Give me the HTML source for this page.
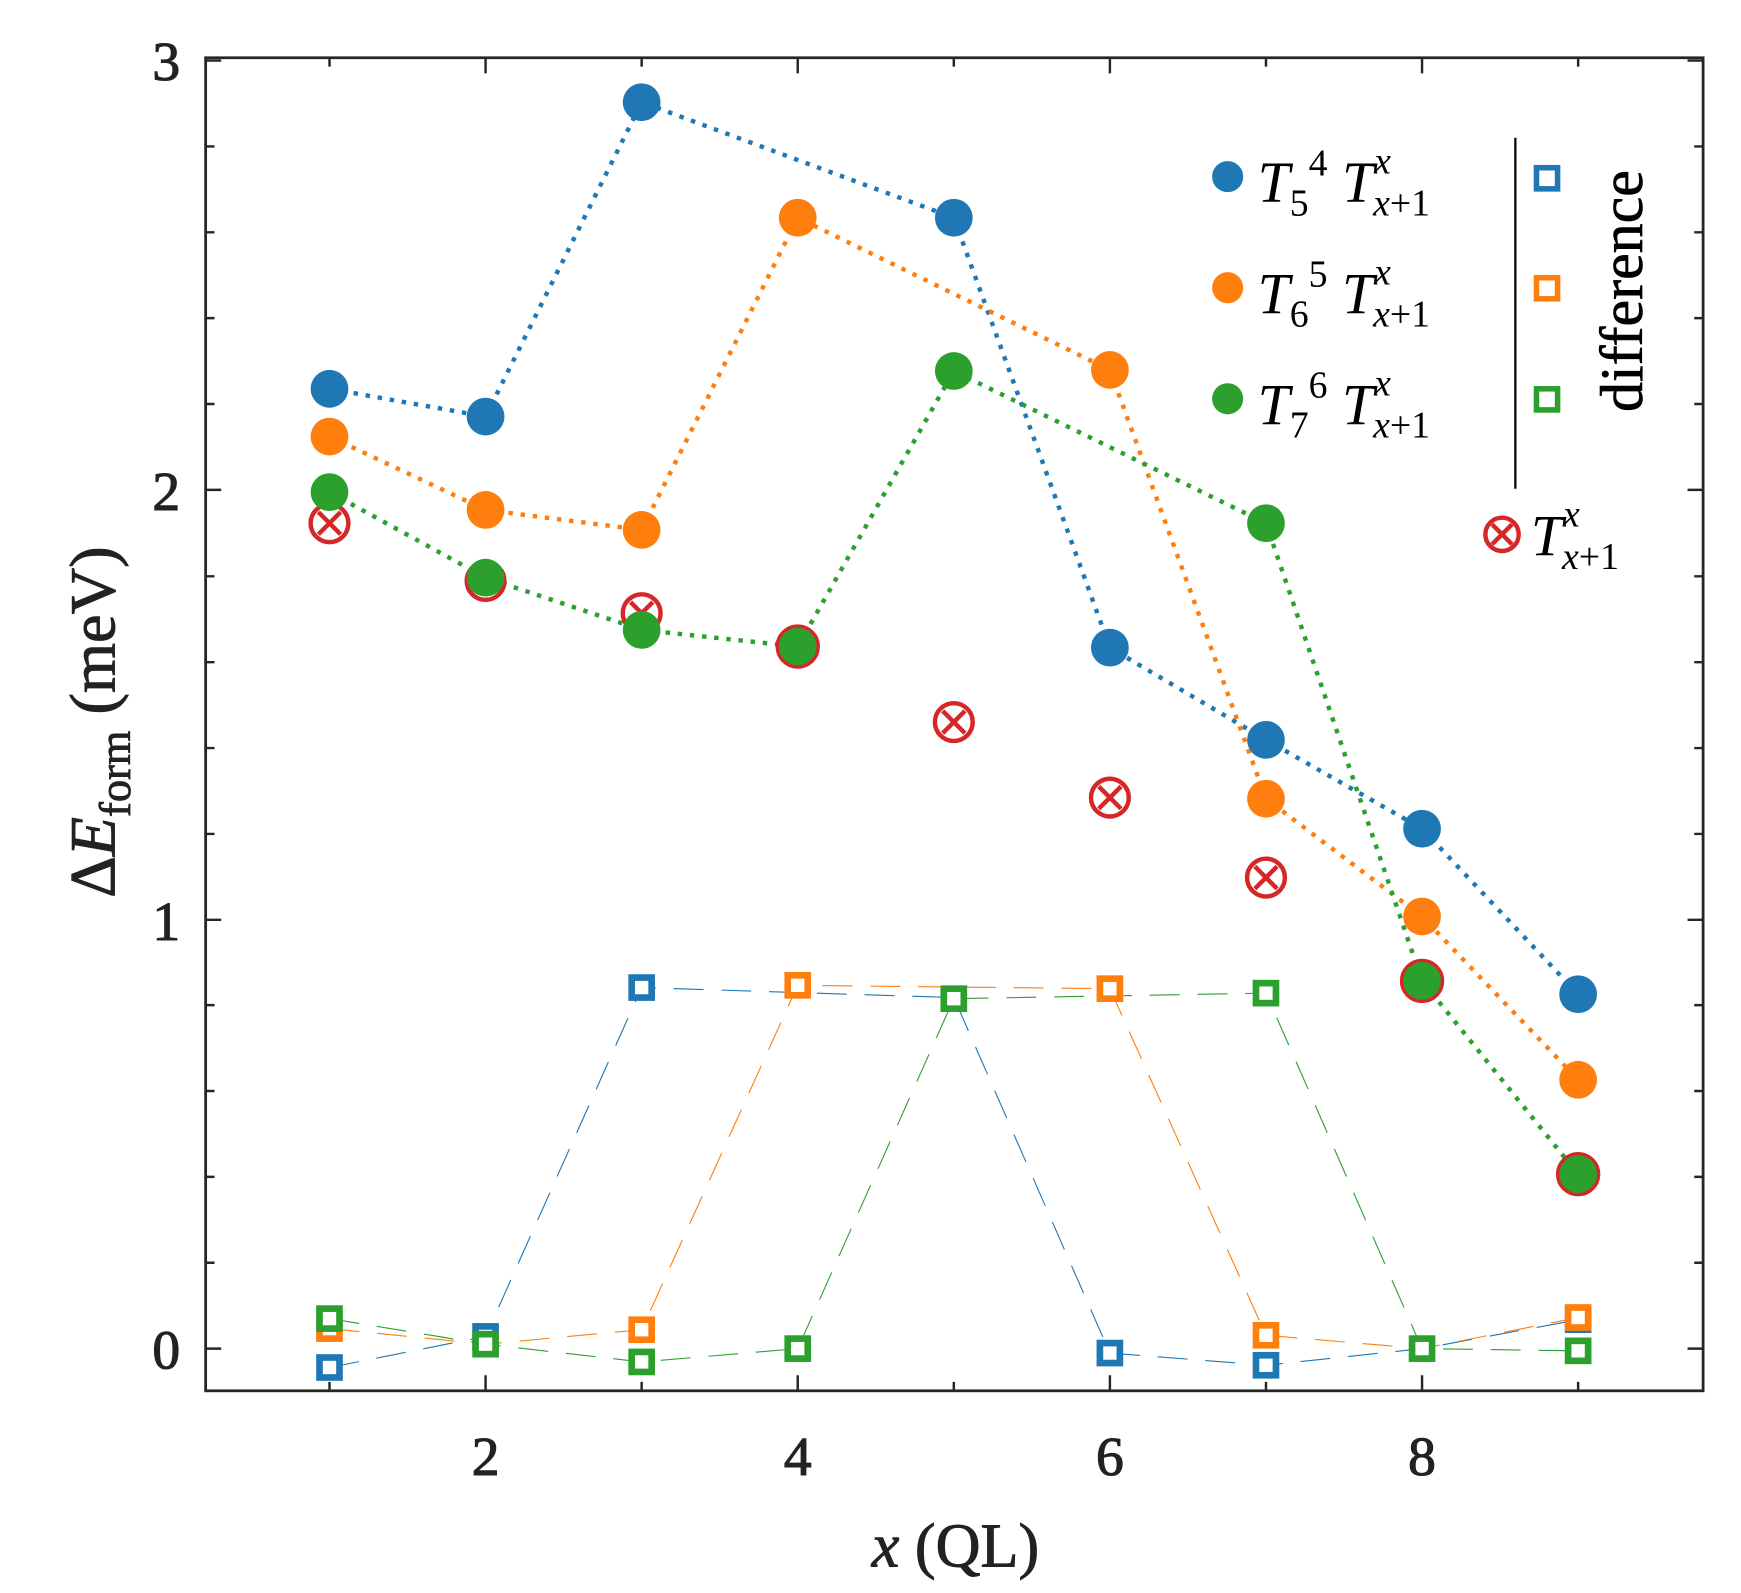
<!DOCTYPE html>
<html><head><meta charset="utf-8"><style>html,body{margin:0;padding:0;background:#fff}svg{display:block}</style></head>
<body>
<svg width="1741" height="1593" viewBox="0 0 1567 1434" xmlns="http://www.w3.org/2000/svg" font-family="'Liberation Serif', serif" fill="#222">
<rect width="1567" height="1434" fill="#fff"/>
<g stroke="#262626" stroke-width="2.2">
<path d="M185,1214h14M185,828h14M185,441h14M185,54.5h14M1533,1214h-14M1533,828h-14M1533,441h-14M1533,54.5h-14"/>
<path d="M185,1136.7h8M185,1059.4h8M185,982.1h8M185,904.8h8M185,750.7h8M185,673.4h8M185,596.1h8M185,518.8h8M185,363.7h8M185,286.4h8M185,209.1h8M185,131.8h8M1533,1136.7h-8M1533,1059.4h-8M1533,982.1h-8M1533,904.8h-8M1533,750.7h-8M1533,673.4h-8M1533,596.1h-8M1533,518.8h-8M1533,363.7h-8M1533,286.4h-8M1533,209.1h-8M1533,131.8h-8"/>
<path d="M437,1252v-14M718,1252v-14M999,1252v-14M1280,1252v-14M437,52v14M718,52v14M999,52v14M1280,52v14"/>
<path d="M296.5,1252v-8M577.5,1252v-8M858.5,1252v-8M1139.5,1252v-8M1420.5,1252v-8M296.5,52v8M577.5,52v8M858.5,52v8M1139.5,52v8M1420.5,52v8"/>
</g>
<rect x="185" y="52" width="1348" height="1200" fill="none" stroke="#262626" stroke-width="2.5"/>
<g font-size="50" text-anchor="middle" stroke="#222" stroke-width="1">
<text x="437" y="1328">2</text><text x="718" y="1328">4</text><text x="999" y="1328">6</text><text x="1280" y="1328">8</text>
<text x="162" y="1232" text-anchor="end">0</text><text x="162" y="846" text-anchor="end">1</text><text x="162" y="459" text-anchor="end">2</text><text x="162" y="72" text-anchor="end">3</text>
</g>
<text x="860" y="1410" font-size="56" text-anchor="middle" stroke="#222" stroke-width="0.8"><tspan font-style="italic">x</tspan> (QL)</text>
<text transform="translate(103,650) rotate(-90)" font-size="58" text-anchor="middle" stroke="#222" stroke-width="0.8">Δ<tspan font-style="italic">E</tspan><tspan font-size="40" dy="14">form</tspan><tspan dy="-14"> (meV)</tspan></text>

<g fill="none" stroke-width="1" stroke-dasharray="27,16">
<polyline stroke="#1f77b4" points="296.5,1231 437,1203 577.5,889 858.5,898 999,1218 1139.5,1229 1280,1214 1420.5,1188"/>
<polyline stroke="#ff7f0e" points="296.5,1196 437,1210 577.5,1197 718,887 999,890 1139.5,1202 1280,1214 1420.5,1186"/>
<polyline stroke="#2ca02c" points="296.5,1187 437,1210 577.5,1226 718,1214 858.5,899 1139.5,894 1280,1214 1420.5,1216"/>
</g>
<g fill="none" stroke-width="4" stroke-dasharray="4,7">
<polyline stroke="#1f77b4" points="296.5,350 437,375 577.5,92 858.5,196 999,583 1139.5,666 1280,746 1420.5,895"/>
<polyline stroke="#ff7f0e" points="296.5,393 437,459 577.5,477 718,196 999,333 1139.5,719 1280,825 1420.5,972"/>
<polyline stroke="#2ca02c" points="296.5,443 437,520 577.5,567 718,582 858.5,334 1139.5,471 1280,883 1420.5,1057"/>
</g>
<g fill="#fff" stroke="#d62728" stroke-width="4">
<g transform="translate(296.5,471)"><circle r="17"/><path d="M-10,-10L10,10M-10,10L10,-10"/></g>
<g transform="translate(437,523)"><circle r="17"/></g>
<g transform="translate(577.5,552)"><circle r="17"/><path d="M-10,-10L10,10M-10,10L10,-10"/></g>
<g transform="translate(718,582)"><circle r="18"/></g>
<g transform="translate(858.5,650)"><circle r="17"/><path d="M-10,-10L10,10M-10,10L10,-10"/></g>
<g transform="translate(999,718)"><circle r="17"/><path d="M-10,-10L10,10M-10,10L10,-10"/></g>
<g transform="translate(1139.5,790)"><circle r="17"/><path d="M-10,-10L10,10M-10,10L10,-10"/></g>
<g transform="translate(1280,883)"><circle r="18"/></g>
<g transform="translate(1420.5,1057)"><circle r="18"/></g>
</g>
<g fill="#1f77b4"><circle cx="296.5" cy="350" r="17"/><circle cx="437" cy="375" r="17"/><circle cx="577.5" cy="92" r="17"/><circle cx="858.5" cy="196" r="17"/><circle cx="999" cy="583" r="17"/><circle cx="1139.5" cy="666" r="17"/><circle cx="1280" cy="746" r="17"/><circle cx="1420.5" cy="895" r="17"/></g>
<g fill="#ff7f0e"><circle cx="296.5" cy="393" r="17"/><circle cx="437" cy="459" r="17"/><circle cx="577.5" cy="477" r="17"/><circle cx="718" cy="196" r="17"/><circle cx="999" cy="333" r="17"/><circle cx="1139.5" cy="719" r="17"/><circle cx="1280" cy="825" r="17"/><circle cx="1420.5" cy="972" r="17"/></g>
<g fill="#2ca02c"><circle cx="296.5" cy="443" r="17"/><circle cx="437" cy="520" r="17"/><circle cx="577.5" cy="567" r="17"/><circle cx="718" cy="582" r="17"/><circle cx="858.5" cy="334" r="17"/><circle cx="1139.5" cy="471" r="17"/><circle cx="1280" cy="883" r="17"/><circle cx="1420.5" cy="1057" r="17"/></g>
<g fill="#fff" stroke-width="6">
<g stroke="#1f77b4"><rect x="287.5" y="1222" width="18" height="18"/><rect x="428" y="1194" width="18" height="18"/><rect x="568.5" y="880" width="18" height="18"/><rect x="990" y="1209" width="18" height="18"/><rect x="1130.5" y="1220" width="18" height="18"/><rect x="1411.5" y="1179" width="18" height="18"/></g>
<g stroke="#ff7f0e"><rect x="287.5" y="1187" width="18" height="18"/><rect x="568.5" y="1188" width="18" height="18"/><rect x="709" y="878" width="18" height="18"/><rect x="990" y="881" width="18" height="18"/><rect x="1130.5" y="1193" width="18" height="18"/><rect x="1411.5" y="1177" width="18" height="18"/></g>
<g stroke="#2ca02c"><rect x="287.5" y="1178" width="18" height="18"/><rect x="428" y="1201" width="18" height="18"/><rect x="568.5" y="1217" width="18" height="18"/><rect x="709" y="1205" width="18" height="18"/><rect x="849.5" y="890" width="18" height="18"/><rect x="1130.5" y="885" width="18" height="18"/><rect x="1271" y="1205" width="18" height="18"/><rect x="1411.5" y="1207" width="18" height="18"/></g>
</g>
<circle cx="1105" cy="159" r="14" fill="#1f77b4"/>
<circle cx="1105" cy="259" r="14" fill="#ff7f0e"/>
<circle cx="1105" cy="359" r="14" fill="#2ca02c"/>
<g font-size="52" fill="#000" font-style="italic">
<text x="1132" y="182">T<tspan font-size="34" font-style="normal" dy="12">5</tspan><tspan font-size="34" font-style="normal" dy="-36">4</tspan><tspan dy="24"> T</tspan><tspan font-size="34" dy="-26">x</tspan><tspan font-size="34" dx="-16" dy="38">x</tspan><tspan font-size="34" font-style="normal">+1</tspan></text>
<text x="1132" y="282">T<tspan font-size="34" font-style="normal" dy="12">6</tspan><tspan font-size="34" font-style="normal" dy="-36">5</tspan><tspan dy="24"> T</tspan><tspan font-size="34" dy="-26">x</tspan><tspan font-size="34" dx="-16" dy="38">x</tspan><tspan font-size="34" font-style="normal">+1</tspan></text>
<text x="1132" y="382">T<tspan font-size="34" font-style="normal" dy="12">7</tspan><tspan font-size="34" font-style="normal" dy="-36">6</tspan><tspan dy="24"> T</tspan><tspan font-size="34" dy="-26">x</tspan><tspan font-size="34" dx="-16" dy="38">x</tspan><tspan font-size="34" font-style="normal">+1</tspan></text>
<text x="1378" y="500">T<tspan font-size="34" dy="-26">x</tspan><tspan font-size="34" dx="-16" dy="38">x</tspan><tspan font-size="34" font-style="normal">+1</tspan></text>
</g>
<line x1="1364" y1="124" x2="1364" y2="440" stroke="#000" stroke-width="2"/>
<g fill="#fff" stroke-width="5"><rect x="1383" y="151" width="19" height="19" stroke="#1f77b4"/><rect x="1383" y="250" width="19" height="19" stroke="#ff7f0e"/><rect x="1383" y="350" width="19" height="19" stroke="#2ca02c"/></g>
<text transform="translate(1478,262) rotate(-90)" font-size="54" text-anchor="middle" fill="#000" stroke="#000" stroke-width="0.6">difference</text>
<g transform="translate(1352,481)" fill="#fff" stroke="#d62728" stroke-width="4"><circle r="15"/><path d="M-9,-9L9,9M-9,9L9,-9"/></g>
</svg>
</body></html>
